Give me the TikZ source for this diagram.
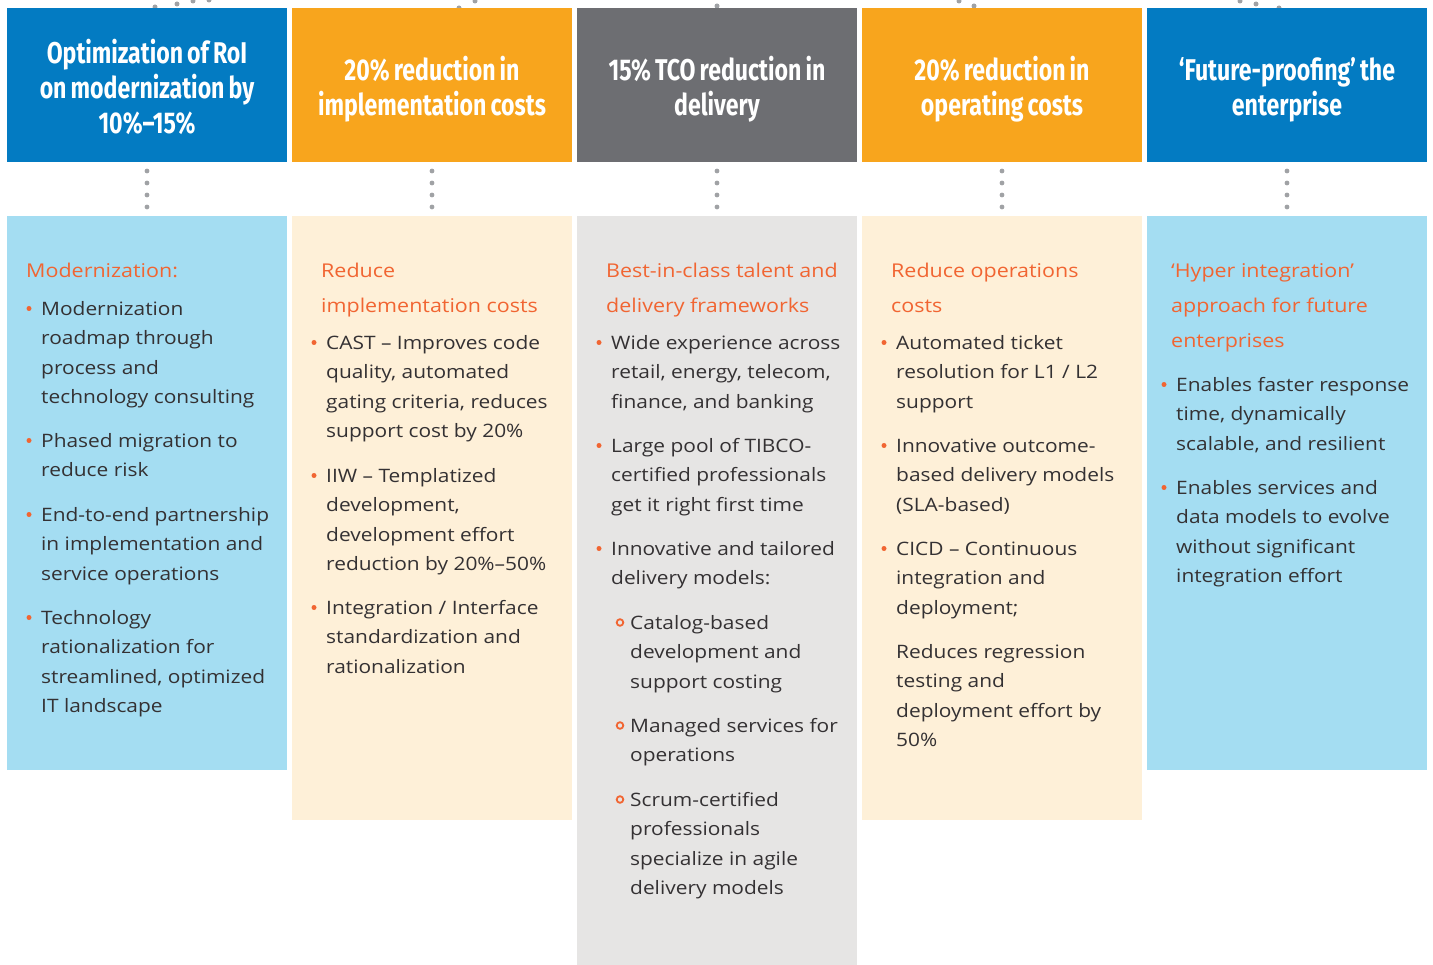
\documentclass[tikz,border=0pt]{standalone}
\usepackage{fontspec}
\setmainfont[FakeStretch=1.13]{Open Sans}
\newfontfamily\headfont[FakeStretch=0.77, WordSpace=0.75]{Fira Sans}
\usetikzlibrary{positioning}

\definecolor{hblue}{RGB}{3,123,194}
\definecolor{horange}{RGB}{248,165,29}
\definecolor{hgray}{RGB}{109,110,114}
\definecolor{lblue}{RGB}{164,221,242}
\definecolor{cream}{RGB}{254,240,216}
\definecolor{lgray}{RGB}{230,229,228}
\definecolor{orng}{RGB}{241,101,50}
\definecolor{txt}{RGB}{52,49,51}
\definecolor{dotgray}{RGB}{160,162,165}

\newcommand{\hstrut}{\rule{0pt}{34.5pt}}
\newcommand{\bitem}[4]{%
  \node[item] (#1) at (#2,#3) {\strut#4};
  \node[blt] (#1-b) at (#2-12,#3-6.5) {};}
\newcommand{\sitem}[4]{%
  \node[item] (#1) at (#2,#3) {\strut#4};
  \node[ring] (#1-b) at (#2-10,#3-6.5) {};}

\begin{document}
\begin{tikzpicture}[x=1pt, y=-1pt,
    head/.style = {minimum width=280pt, minimum height=154pt, inner sep=0pt, outer sep=0pt,
                   align=center, text=white, text depth=8pt,
                   font=\headfont\bfseries\fontsize{30}{35}\selectfont},
    body/.style = {minimum width=280pt, inner sep=0pt, outer sep=0pt},
    link/.style = {draw=dotgray, line width=4.8pt, line cap=round, dash pattern=on 0pt off 11.99pt,
                   shorten <=9pt, shorten >=9pt},
    item/.style = {anchor=north west, yshift=20.65pt, inner sep=0pt, align=left, text=txt,
                   font=\fontsize{18.5}{29.5}\selectfont},
    ttl/.style  = {anchor=north west, yshift=24.5pt, inner sep=0pt, align=left, text=orng,
                   font=\fontsize{19}{35}\selectfont},
    blt/.style  = {circle, fill=orng, inner sep=0pt, minimum size=5pt},
    ring/.style = {circle, draw=orng, line width=1.8pt, inner sep=0pt, minimum size=6.6pt}]
  \useasboundingbox (0,0) rectangle (1433,965);

  \foreach \x/\y in {155/7, 177/4, 193/1, 209/0, 459/8, 475/1, 717/6, 959/1, 974/6, 1240/1, 1256/4, 1279/8}
    \fill[dotgray] (\x,\y) circle (2.5pt);

  \node[head, fill=hblue] (h1) at (147,85) {\hstrut Optimization of RoI\\on modernization by\\10\%–15\%};
  \node[head, fill=horange, right=5pt of h1] (h2) {\hstrut 20\% reduction in\\implementation costs};
  \node[head, fill=hgray, right=5pt of h2] (h3) {\hstrut 15\% TCO reduction in\\delivery};
  \node[head, fill=horange, right=5pt of h3] (h4) {\hstrut 20\% reduction in\\operating costs};
  \node[head, fill=hblue, right=5pt of h4] (h5) {\hstrut ‘Future-proofing’ the\\enterprise};

  \foreach \i/\c/\ht in {1/lblue/554, 2/cream/604, 3/lgray/752, 4/cream/604, 5/lblue/554}
    \node[body, fill=\c, minimum height=\ht pt, below=54pt of h\i] (b\i) {};
  \foreach \i in {1,...,5}
    \draw[link] (h\i.south) -- (b\i.north);

  \node[ttl] (t1) at (26,277) {\strut Modernization:};
  \bitem{i11}{41}{315}{Modernization\\roadmap through\\process and\\technology consulting}
  \bitem{i12}{41}{447}{Phased migration to\\reduce risk}
  \bitem{i13}{41}{521}{End-to-end partnership\\in implementation and\\service operations}
  \bitem{i14}{41}{624}{Technology\\rationalization for\\streamlined, optimized\\IT landscape}

  \node[ttl] (t2) at (321,277) {\strut Reduce\\implementation costs};
  \bitem{i21}{326}{349}{CAST – Improves code\\quality, automated\\gating criteria, reduces\\support cost by 20\%}
  \bitem{i22}{326}{482}{IIW – Templatized\\development,\\development effort\\reduction by 20\%–50\%}
  \bitem{i23}{326}{614}{Integration / Interface\\standardization and\\rationalization}

  \node[ttl] (t3) at (606,277) {\strut Best-in-class talent and\\delivery frameworks};
  \bitem{i31}{611}{349}{Wide experience across\\retail, energy, telecom,\\finance, and banking}
  \bitem{i32}{611}{452}{Large pool of TIBCO-\\certified professionals\\get it right first time}
  \bitem{i33}{611}{555}{Innovative and tailored\\delivery models:}
  \sitem{s31}{630}{629}{Catalog-based\\development and\\support costing}
  \sitem{s32}{630}{732}{Managed services for\\operations}
  \sitem{s33}{630}{806}{Scrum-certified\\professionals\\specialize in agile\\delivery models}

  \node[ttl] (t4) at (891,277) {\strut Reduce operations\\costs};
  \bitem{i41}{896}{349}{Automated ticket\\resolution for L1 / L2\\support}
  \bitem{i42}{896}{452}{Innovative outcome-\\based delivery models\\(SLA-based)}
  \bitem{i43}{896}{555}{CICD – Continuous\\integration and\\deployment;}
  \node[item] (p43) at (896,658) {\strut Reduces regression\\testing and\\deployment effort by\\50\%};

  \node[ttl] (t5) at (1171,277) {\strut ‘Hyper integration’\\approach for future\\enterprises};
  \bitem{i51}{1176}{391}{Enables faster response\\time, dynamically\\scalable, and resilient}
  \bitem{i52}{1176}{494}{Enables services and\\data models to evolve\\without significant\\integration effort}
\end{tikzpicture}
\end{document}
